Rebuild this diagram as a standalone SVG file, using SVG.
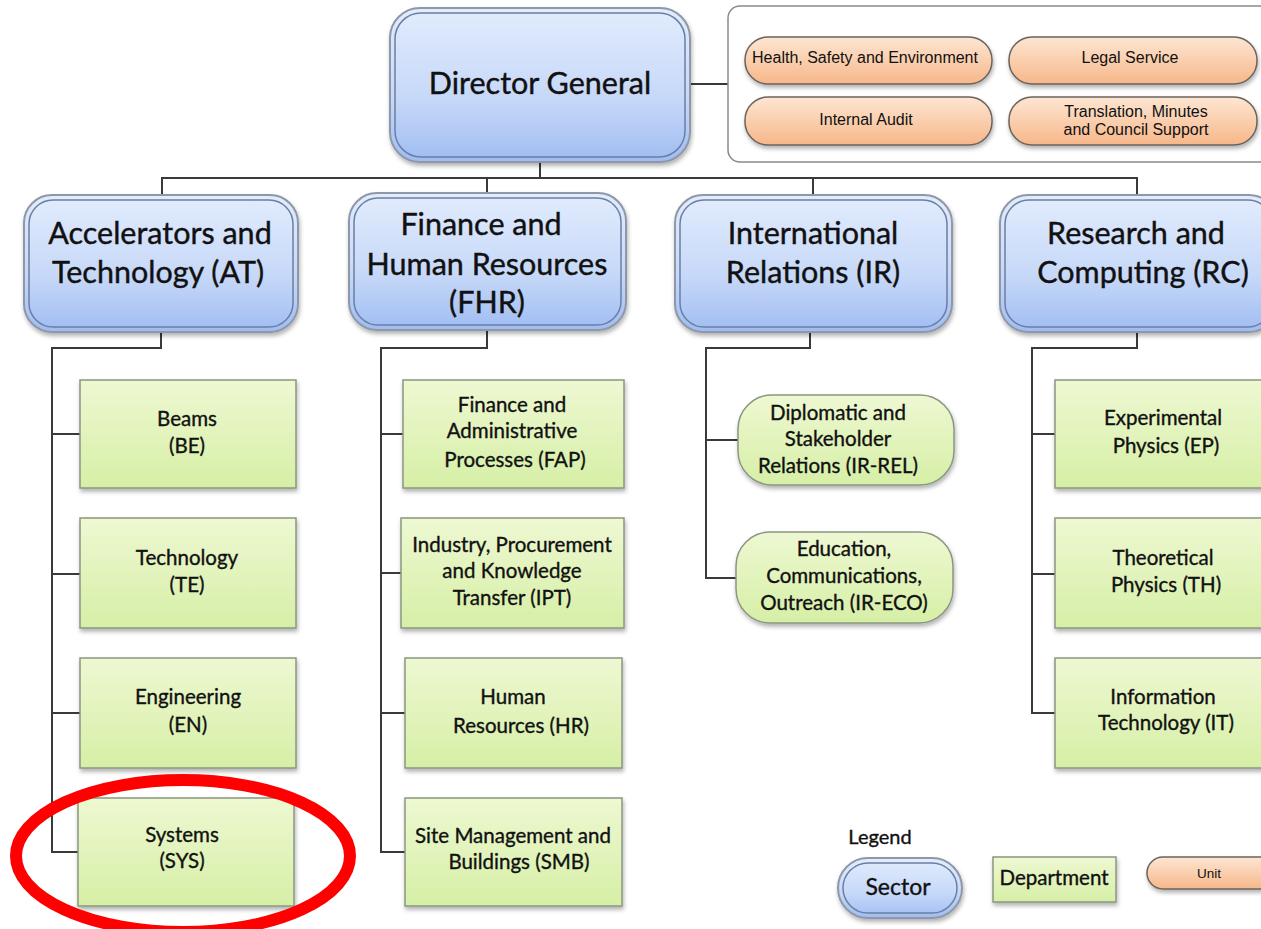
<svg xmlns="http://www.w3.org/2000/svg" width="1261" height="929" viewBox="0 0 1261 929">
<defs>
<linearGradient id="gBlue" x1="0" y1="0" x2="0" y2="1">
<stop offset="0" stop-color="#e2ecfd"/><stop offset="0.6" stop-color="#c6d8f8"/><stop offset="1" stop-color="#9fbcf2"/>
</linearGradient>
<linearGradient id="gGreen" x1="0" y1="0" x2="0" y2="1">
<stop offset="0" stop-color="#eef8d2"/><stop offset="1" stop-color="#d6efa6"/>
</linearGradient>
<linearGradient id="gOrange" x1="0" y1="0" x2="0" y2="1">
<stop offset="0" stop-color="#fde6d3"/><stop offset="1" stop-color="#f7b789"/>
</linearGradient>
<filter id="sh" x="-10%" y="-10%" width="120%" height="130%">
<feDropShadow dx="1" dy="3" stdDeviation="2" flood-color="#000" flood-opacity="0.3"/>
</filter>
</defs>
<style>
.sec-o{fill:url(#gBlue);stroke:#8e98a8;stroke-width:2;filter:url(#sh)}
.sec-i{fill:none;stroke:#6a7fa3;stroke-width:1.5}
.dep{fill:url(#gGreen);stroke:#8b9680;stroke-width:1.5;filter:url(#sh)}
.unit{fill:url(#gOrange);stroke:#6b635c;stroke-width:1.5;filter:url(#sh)}
.t-sec{font-family:Lato,"Open Sans",sans-serif;font-size:30.5px;fill:#111;stroke:#111;stroke-width:0.4;text-anchor:middle}
.t-dep{font-family:Lato,"Open Sans",sans-serif;font-size:20.5px;fill:#111;stroke:#111;stroke-width:0.35;text-anchor:middle}
.t-unit{font-family:"Liberation Sans",Arial,sans-serif;font-size:16px;fill:#111;text-anchor:middle}
.t-leg{font-family:Lato,"Open Sans",sans-serif;fill:#111;stroke:#111;stroke-width:0.35;text-anchor:middle}
.conn{fill:none;stroke:#3a3a3a;stroke-width:2}
</style>
<rect width="1261" height="929" fill="#fff"/>

<g id="connectors">
<path class="conn" d="M690 84H728"/>
<path class="conn" d="M540 162V178M162 195V178H1137V195M487 178V193M813 178V195"/>
<path class="conn" d="M161 332V348H52V852H80M52 434H80M52 574H80M52 713H80"/>
<path class="conn" d="M487 330V348H381V852H405M381 434H403M381 573H401M381 713H405"/>
<path class="conn" d="M810 332V348H706V578H738M706 440H738"/>
<path class="conn" d="M1137 332V348H1032V713H1055M1032 434H1055M1032 574H1055"/>
</g>

<g id="director-general">
<rect class="sec-o" x="390" y="8" width="300" height="154" rx="30"/>
<rect class="sec-i" x="395" y="13" width="290" height="144" rx="26"/>
<text class="t-sec" x="540" y="94">Director General</text>
</g>

<g id="units-box">
<rect x="728" y="6" width="545" height="156" rx="12" fill="#fff" stroke="#8a8a8a" stroke-width="1.5"/>
</g>
<g id="unit-hse">
<rect class="unit" x="745" y="37" width="247" height="47" rx="23"/>
<text class="t-unit" x="865" y="63">Health, Safety and Environment</text>
</g>
<g id="unit-legal">
<rect class="unit" x="1009" y="37" width="248" height="47" rx="23"/>
<text class="t-unit" x="1130" y="63">Legal Service</text>
</g>
<g id="unit-audit">
<rect class="unit" x="745" y="97" width="247" height="48" rx="23"/>
<text class="t-unit" x="866" y="125">Internal Audit</text>
</g>
<g id="unit-translation">
<rect class="unit" x="1009" y="97" width="248" height="48" rx="23"/>
<text class="t-unit" x="1136" y="117">Translation, Minutes</text>
<text class="t-unit" x="1136" y="135">and Council Support</text>
</g>

<g id="sector-at">
<rect class="sec-o" x="24" y="195" width="274" height="137" rx="28"/>
<rect class="sec-i" x="29" y="200" width="264" height="127" rx="24"/>
<text class="t-sec" x="160" y="244">Accelerators and</text>
<text class="t-sec" x="158" y="283">Technology (AT)</text>
</g>
<g id="sector-fhr">
<rect class="sec-o" x="349" y="193" width="277" height="137" rx="28"/>
<rect class="sec-i" x="354" y="198" width="267" height="127" rx="24"/>
<text class="t-sec" x="481" y="235">Finance and</text>
<text class="t-sec" x="487" y="275">Human Resources</text>
<text class="t-sec" x="487" y="313">(FHR)</text>
</g>
<g id="sector-ir">
<rect class="sec-o" x="675" y="195" width="277" height="137" rx="28"/>
<rect class="sec-i" x="680" y="200" width="267" height="127" rx="24"/>
<text class="t-sec" x="813" y="244">International</text>
<text class="t-sec" x="813" y="283">Relations (IR)</text>
</g>
<g id="sector-rc">
<rect class="sec-o" x="1000" y="195" width="277" height="137" rx="28"/>
<rect class="sec-i" x="1005" y="200" width="267" height="127" rx="24"/>
<text class="t-sec" x="1136" y="244">Research and</text>
<text class="t-sec" x="1143" y="283">Computing (RC)</text>
</g>

<g id="dept-be">
<rect class="dep" x="80" y="380" width="216" height="108"/>
<text class="t-dep" x="187" y="426">Beams</text>
<text class="t-dep" x="187" y="453">(BE)</text>
</g>
<g id="dept-te">
<rect class="dep" x="80" y="518" width="216" height="110"/>
<text class="t-dep" x="187" y="565">Technology</text>
<text class="t-dep" x="187" y="592">(TE)</text>
</g>
<g id="dept-en">
<rect class="dep" x="80" y="658" width="216" height="110"/>
<text class="t-dep" x="188" y="704">Engineering</text>
<text class="t-dep" x="188" y="732">(EN)</text>
</g>
<g id="dept-sys">
<rect class="dep" x="78" y="798" width="216" height="108"/>
<text class="t-dep" x="182" y="842">Systems</text>
<text class="t-dep" x="182" y="868">(SYS)</text>
</g>

<g id="dept-fap">
<rect class="dep" x="403" y="380" width="221" height="108"/>
<text class="t-dep" x="512" y="412">Finance and</text>
<text class="t-dep" x="512" y="438">Administrative</text>
<text class="t-dep" x="515" y="467">Processes (FAP)</text>
</g>
<g id="dept-ipt">
<rect class="dep" x="401" y="518" width="223" height="110"/>
<text class="t-dep" x="512" y="552">Industry, Procurement</text>
<text class="t-dep" x="512" y="578">and Knowledge</text>
<text class="t-dep" x="512" y="605">Transfer (IPT)</text>
</g>
<g id="dept-hr">
<rect class="dep" x="405" y="658" width="217" height="110"/>
<text class="t-dep" x="513" y="704">Human</text>
<text class="t-dep" x="521" y="733">Resources (HR)</text>
</g>
<g id="dept-smb">
<rect class="dep" x="405" y="798" width="217" height="108"/>
<text class="t-dep" x="513" y="843">Site Management and</text>
<text class="t-dep" x="519" y="869">Buildings (SMB)</text>
</g>

<g id="dept-ir-rel">
<rect class="dep" x="738" y="395" width="216" height="90" rx="34"/>
<text class="t-dep" x="838" y="420">Diplomatic and</text>
<text class="t-dep" x="838" y="446">Stakeholder</text>
<text class="t-dep" x="838" y="473">Relations (IR-REL)</text>
</g>
<g id="dept-ir-eco">
<rect class="dep" x="736" y="532" width="217" height="91" rx="34"/>
<text class="t-dep" x="844" y="556">Education,</text>
<text class="t-dep" x="844" y="583">Communications,</text>
<text class="t-dep" x="844" y="610">Outreach (IR-ECO)</text>
</g>

<g id="dept-ep">
<rect class="dep" x="1055" y="380" width="216" height="108"/>
<text class="t-dep" x="1163" y="425">Experimental</text>
<text class="t-dep" x="1166" y="453">Physics (EP)</text>
</g>
<g id="dept-th">
<rect class="dep" x="1055" y="518" width="216" height="110"/>
<text class="t-dep" x="1163" y="565">Theoretical</text>
<text class="t-dep" x="1166" y="592">Physics (TH)</text>
</g>
<g id="dept-it">
<rect class="dep" x="1055" y="658" width="216" height="110"/>
<text class="t-dep" x="1163" y="704">Information</text>
<text class="t-dep" x="1166" y="730">Technology (IT)</text>
</g>

<g id="legend">
<text class="t-leg" x="880" y="844" font-size="20">Legend</text>
<rect class="sec-o" x="838" y="858" width="124" height="60" rx="30"/>
<rect class="sec-i" x="843" y="863" width="114" height="50" rx="25"/>
<text class="t-leg" x="898" y="895" font-size="23">Sector</text>
<rect class="dep" x="993" y="857" width="123" height="45"/>
<text class="t-leg" x="1054" y="885" font-size="20.5">Department</text>
<rect class="unit" x="1147" y="857" width="130" height="32" rx="16"/>
<text x="1209" y="878" font-family="'Liberation Sans',Arial,sans-serif" font-size="13.5" fill="#111" text-anchor="middle">Unit</text>
</g>

<g id="highlight">
<ellipse cx="183" cy="856" rx="167" ry="76" fill="none" stroke="#ff0000" stroke-width="12"/>
</g>
</svg>
